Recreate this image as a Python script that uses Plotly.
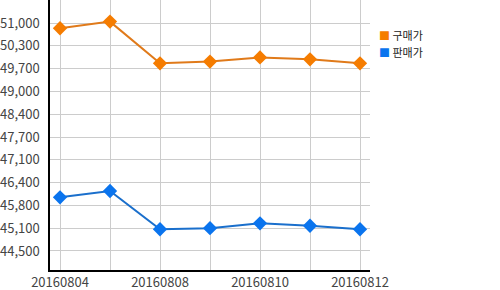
import plotly.graph_objects as go

dates = ["20160804", "20160805", "20160808", "20160809", "20160810", "20160811", "20160812"]
buy = [50850, 51040, 49850, 49900, 50020, 49965, 49850]
sell = [46030, 46210, 45120, 45150, 45290, 45220, 45120]
series_names = ["구매가", "판매가"]
y_tickvals = [44500, 45150, 45800, 46450, 47100, 47750, 48400, 49050, 49700, 50350, 51000]
y_ticktext = ["44,500", "45,100", "45,800", "46,400", "47,100", "47,700", "48,400", "49,000", "49,700", "50,300", "51,000"]

idx = list(range(len(dates)))
x_ticktext = [d if i % 2 == 0 else "" for i, d in enumerate(dates)]

colors = ["#F57C00", "#0A74EE"]
line_colors = ["#E07A1A", "#1A6FCC"]

fig = go.Figure()
for name, vals, c, lc in zip(series_names, [buy, sell], colors, line_colors):
    fig.add_trace(go.Scatter(
        x=idx, y=vals, name=name, mode="lines+markers",
        line=dict(color=lc, width=2),
        marker=dict(symbol="diamond", size=11, color=c),
        showlegend=False,
    ))

for i, (name, c) in enumerate(zip(series_names, colors)):
    fig.add_annotation(
        xref="paper", yref="paper", x=1.025, y=1 - (35 + 16.5 * i) / 270,
        xanchor="left", yanchor="middle", showarrow=False,
        text=f"<span style='color:{c}'>■</span> {name}",
        font=dict(size=11, color="#222"), borderpad=0,
    )

fig.update_layout(
    width=500, height=290,
    margin=dict(l=50, r=130, t=0, b=20),
    paper_bgcolor="white", plot_bgcolor="white",
    font=dict(family="Noto Sans CJK KR, Open Sans, sans-serif", size=13, color="#444"),
    showlegend=False,
)
fig.update_xaxes(
    range=[-0.2, 6.2], tickvals=idx, ticktext=x_ticktext,
    showgrid=True, gridcolor="#cccccc", gridwidth=1,
    showline=True, linecolor="black", linewidth=1.5,
    ticks="", zeroline=False, tickfont=dict(size=13, color="#444"),
)
fig.update_yaxes(
    range=[43958, 51656], tickvals=y_tickvals, ticktext=y_ticktext,
    showgrid=True, gridcolor="#cccccc", gridwidth=1,
    showline=True, linecolor="black", linewidth=1.5,
    ticks="outside", ticklen=6, tickcolor="rgba(0,0,0,0)",
    zeroline=False, tickfont=dict(size=13, color="#444"),
)
fig.write_html("out.html")
